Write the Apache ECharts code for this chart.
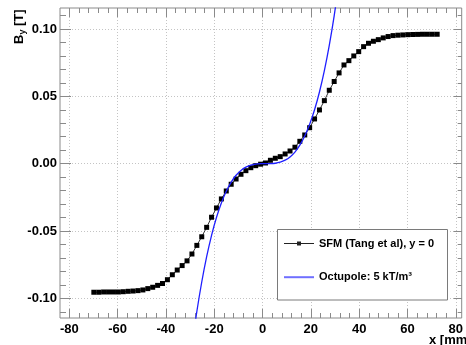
<!DOCTYPE html>
<html>
<head>
<meta charset="utf-8">
<script src="https://cdn.jsdelivr.net/npm/echarts@6/dist/echarts.min.js"></script>
<style>
  html, body { margin: 0; padding: 0; background: #fff; }
  #chart { width: 466px; height: 345px; }
</style>
</head>
<body>
<div id="chart"></div>
<script>
// SFM (Tang et al) field map along y = 0: x in mm, By in T
const sfmX = [-70, -68, -66, -64, -62, -60, -58, -56, -54, -52, -50, -48, -46, -44, -42, -40,
  -38, -36, -34, -32, -30, -28, -26, -24, -22, -20, -18, -16, -14, -12, -10, -8, -6, -4, -2, 0,
  2, 4, 6, 8, 10, 12, 14, 16, 18, 20, 22, 24, 26, 28, 30, 32, 34, 36, 38, 40,
  42, 44, 46, 48, 50, 52, 54, 56, 58, 60, 62, 64, 66, 68, 70];
const sfmBy = [-0.0955, -0.0955, -0.0953, -0.0953, -0.0953, -0.0953, -0.0951, -0.0948, -0.0946, -0.0943,
  -0.0938, -0.0928, -0.0918, -0.0904, -0.0890, -0.0862, -0.0825, -0.0790, -0.0757, -0.0722,
  -0.0671, -0.0607, -0.0543, -0.0473, -0.0398, -0.0329, -0.0262, -0.0203, -0.0153, -0.0114,
  -0.0079, -0.0052, -0.0030, -0.0015, -0.0004, 0.0005,
  0.0025, 0.0040, 0.0052, 0.0072, 0.0094, 0.0122, 0.0166, 0.0213, 0.0267, 0.0332,
  0.0399, 0.0468, 0.0545, 0.0610, 0.0674, 0.0733, 0.0765, 0.0800, 0.0832, 0.0869,
  0.0894, 0.0909, 0.0921, 0.0934, 0.0944, 0.0951, 0.0954, 0.0956, 0.0958, 0.0959,
  0.0960, 0.0961, 0.0961, 0.0961, 0.0961];

// Octupole model, 5 kT/m^3
const octX = [-30, -28, -26, -24, -22, -20, -18, -16, -14, -12, -10, -8, -6, -4, -2, 0,
  2, 4, 6, 8, 10, 12, 14, 16, 18, 20, 22, 24, 26, 28, 30];
const octBy = [-0.1350, -0.1098, -0.0879, -0.0691, -0.0532, -0.0400, -0.0292, -0.0205, -0.0137,
  -0.0086, -0.0050, -0.0026, -0.0011, -0.0003, -0.00004, 0,
  0.00004, 0.0003, 0.0011, 0.0026, 0.0050, 0.0086, 0.0137, 0.0205, 0.0292, 0.0400,
  0.0532, 0.0691, 0.0879, 0.1098, 0.1350];

// Axis tick values
const xTicks = [-80, -60, -40, -20, 0, 20, 40, 60, 80];
const yTicks = [-0.10, -0.05, 0.00, 0.05, 0.10];

const seriesNames = ['SFM (Tang et al), y = 0', 'Octupole: 5 kT/m³'];

const FONT = 'Liberation Sans, Arial, Helvetica, sans-serif';
const AXIS_GRAY = '#8a8a8a';
const GRID_GRAY = '#c4c4c4';

const chart = echarts.init(document.getElementById('chart'), null, { renderer: 'canvas' });

const zip = (xs, ys) => xs.map((x, i) => [x, ys[i]]);

const tickLabel = {
  color: '#000', fontFamily: FONT, fontWeight: 'bold', fontSize: 13
};

chart.setOption({
  animation: false,
  backgroundColor: '#fff',
  grid: [
    // plotting frame
    { left: 60, top: 8, right: 4.3, bottom: 27, show: true, borderColor: AXIS_GRAY, borderWidth: 1, backgroundColor: 'transparent' },
    // x ticks / vertical grid lines
    { left: 69.3, top: 8, right: 4.3, bottom: 27 },
    // y major ticks / horizontal grid lines
    { left: 60, top: 29, right: 4.3, bottom: 46.7 },
    // y minor ticks
    { left: 60, top: 15.5, right: 4.3, bottom: 33.2 }
  ],
  xAxis: [
    { gridIndex: 0, type: 'value', min: -83.8, max: 80, show: false },
    {
      gridIndex: 1, type: 'value', position: 'bottom',
      min: xTicks[0], max: xTicks[xTicks.length - 1], interval: xTicks[1] - xTicks[0],
      axisLine: { show: false },
      axisTick: { show: true, inside: true, length: 9, lineStyle: { color: AXIS_GRAY } },
      minorTick: { show: true, splitNumber: 5, length: 5, lineStyle: { color: AXIS_GRAY } },
      splitLine: { show: true, lineStyle: { color: GRID_GRAY, type: [1, 2], width: 1 } },
      axisLabel: Object.assign({ margin: 5, showMinLabel: true, showMaxLabel: true }, tickLabel)
    },
    {
      gridIndex: 1, type: 'value', position: 'top',
      min: xTicks[0], max: xTicks[xTicks.length - 1], interval: xTicks[1] - xTicks[0],
      axisLine: { show: false },
      axisTick: { show: true, inside: true, length: 9, lineStyle: { color: AXIS_GRAY } },
      minorTick: { show: true, splitNumber: 5, length: 5, lineStyle: { color: AXIS_GRAY } },
      splitLine: { show: false },
      axisLabel: { show: false }
    },
    { gridIndex: 2, type: 'value', min: 0, max: 1, show: false },
    { gridIndex: 3, type: 'value', min: 0, max: 1, show: false }
  ],
  yAxis: [
    { gridIndex: 0, type: 'value', min: -0.11463, max: 0.1156, show: false },
    { gridIndex: 1, type: 'value', min: 0, max: 1, show: false },
    {
      gridIndex: 2, type: 'value', position: 'left',
      min: yTicks[0], max: yTicks[yTicks.length - 1], interval: yTicks[1] - yTicks[0],
      axisLine: { show: false },
      axisTick: { show: true, inside: true, length: 11, lineStyle: { color: AXIS_GRAY } },
      splitLine: { show: true, lineStyle: { color: GRID_GRAY, type: [1, 2], width: 1 } },
      axisLabel: Object.assign({ margin: 3, formatter: v => v.toFixed(2) }, tickLabel)
    },
    {
      gridIndex: 2, type: 'value', position: 'right',
      min: yTicks[0], max: yTicks[yTicks.length - 1], interval: yTicks[1] - yTicks[0],
      axisLine: { show: false },
      axisTick: { show: true, inside: true, length: 8, lineStyle: { color: AXIS_GRAY } },
      splitLine: { show: false },
      axisLabel: { show: false }
    },
    {
      gridIndex: 3, type: 'value', position: 'left',
      min: -0.11, max: 0.11, interval: 0.01,
      axisLine: { show: false },
      axisTick: { show: true, inside: true, length: 6, lineStyle: { color: AXIS_GRAY } },
      splitLine: { show: false },
      axisLabel: { show: false }
    },
    {
      gridIndex: 3, type: 'value', position: 'right',
      min: -0.11, max: 0.11, interval: 0.01,
      axisLine: { show: false },
      axisTick: { show: true, inside: true, length: 4, lineStyle: { color: AXIS_GRAY } },
      splitLine: { show: false },
      axisLabel: { show: false }
    }
  ],
  legend: {
    orient: 'vertical',
    left: 284, top: 238,
    itemWidth: 30, itemHeight: 14, itemGap: 22.7,
    padding: 0,
    z: 20,
    symbolKeepAspect: true,
    textStyle: { color: '#000', fontFamily: FONT, fontWeight: 'bold', fontSize: 11 },
    data: [
      { name: seriesNames[0], icon: 'path://M0,6.5H13V5H17V6.5H30V7.5H17V9H13V7.5H0Z', itemStyle: { color: '#222' } },
      { name: seriesNames[1], icon: 'path://M0,0H30V2H0Z', itemStyle: { color: '#6f6fff' } }
    ]
  },
  graphic: [
    {
      type: 'rect', z: 10,
      shape: { x: 277.5, y: 229.5, width: 170, height: 70.5 },
      style: { fill: '#fff', stroke: '#7a7a7a', lineWidth: 1 }
    },
    {
      type: 'text', z: 10,
      x: 429, y: 334,
      style: { text: 'x [mm]', fill: '#000', font: 'bold 13px ' + FONT, textVerticalAlign: 'top' }
    },
    {
      type: 'text', z: 10,
      x: 19, y: 44, rotation: Math.PI / 2,
      style: {
        text: '{b|B}{s|y}{b| [T]}',
        textAlign: 'left', textVerticalAlign: 'middle',
        rich: {
          b: { fontFamily: FONT, fontWeight: 'bold', fontSize: 13, lineHeight: 16, fill: '#000', verticalAlign: 'middle' },
          s: { fontFamily: FONT, fontWeight: 'bold', fontSize: 9, lineHeight: 16, fill: '#000', verticalAlign: 'bottom' }
        }
      }
    }
  ],
  series: [
    {
      name: seriesNames[0],
      type: 'line', xAxisIndex: 0, yAxisIndex: 0,
      data: zip(sfmX, sfmBy),
      symbol: 'rect', symbolSize: 5,
      showAllSymbol: true,
      itemStyle: { color: '#000' },
      lineStyle: { color: '#333', width: 1 },
      z: 3
    },
    {
      name: seriesNames[1],
      type: 'line', xAxisIndex: 0, yAxisIndex: 0,
      data: zip(octX, octBy),
      symbol: 'none', smooth: 0.3,
      itemStyle: { color: '#1f1fff' },
      lineStyle: { color: '#1f1fff', width: 1.3 },
      z: 4
    }
  ]
});
</script>
</body>
</html>
